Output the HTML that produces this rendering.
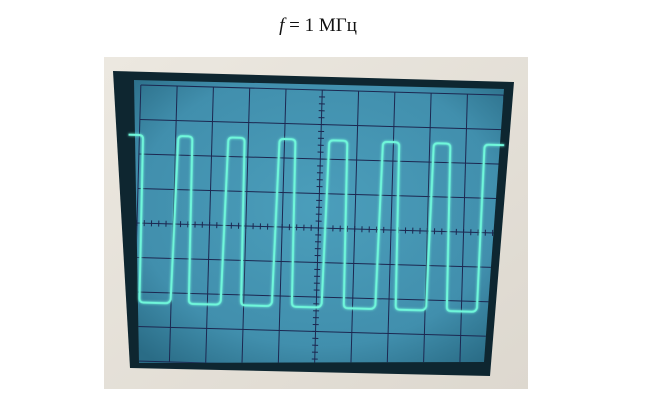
<!DOCTYPE html>
<html><head><meta charset="utf-8">
<style>
html,body{margin:0;padding:0;background:#fff;width:652px;height:401px;overflow:hidden}
#title{position:absolute;left:0;width:636px;top:15px;text-align:center;font-family:"Liberation Serif","DejaVu Serif",serif;font-size:19px;color:#111}
svg{position:absolute;left:0;top:0}
</style></head><body>
<div id="title"><i>f</i> = 1 МГц</div>
<svg width="652" height="401">
<defs>
<radialGradient id="scr" cx="0.5" cy="0.45" r="0.7">
<stop offset="0" stop-color="#4b9ebb"/><stop offset="0.7" stop-color="#418fad"/><stop offset="1" stop-color="#2a6c86"/>
</radialGradient>
<linearGradient id="bez" x1="0" y1="0" x2="1" y2="1">
<stop offset="0" stop-color="#ece8e0"/><stop offset="1" stop-color="#ddd8cf"/>
</linearGradient>
<filter id="glow"><feGaussianBlur stdDeviation="1.2" result="b"/><feMerge><feMergeNode in="b"/><feMergeNode in="SourceGraphic"/></feMerge></filter>
<clipPath id="clip"><polygon points="134,80 504,89 484,362 139,363"/></clipPath>
</defs>
<rect x="104" y="57" width="424" height="332" fill="url(#bez)"/>
<polygon points="113,71 514,82 490,376 130,368" fill="#0e2630"/>
<polygon points="134,80 504,89 484,362 139,363" fill="url(#scr)"/>
<g clip-path="url(#clip)"><g id="scope" transform="rotate(1.6 318 225)"></g></g>
<g id="tracelayer" transform="rotate(1.6 318 225)"></g>
</svg>
<script>
// waveform data: edge times in divisions (0..10) and levels in divisions from centre
const riseTimes=[0.96,2.34,3.75,5.12,6.6,8.0,9.4];
const fallTimes=[0.1,1.46,2.9,4.3,5.73,7.16,8.57];
const highLevel=2.55, lowLevel=-2.3;
const xTicks=[0,1,2,3,4,5,6,7,8,9,10];
const yTicks=[-4,-3,-2,-1,0,1,2,3,4];
const NS='http://www.w3.org/2000/svg';
const g=document.getElementById('scope');
const tl=document.getElementById('tracelayer');
const X0=137,DX=36.3,YC=228,DY=34.5;
const xs=t=>X0+t*DX, ys=v=>YC-v*DY;
function mk(tag,attrs,parent){const e=document.createElementNS(NS,tag);for(const k in attrs)e.setAttribute(k,attrs[k]);(parent||g).appendChild(e);return e;}
xTicks.forEach(t=>{const l=mk('line',{x1:xs(t),x2:xs(t),y1:ys(4),y2:ys(-4),stroke:'#1c2750','stroke-width':1});

});
yTicks.forEach(v=>{const l=mk('line',{x1:xs(0),x2:xs(10),y1:ys(v),y2:ys(v),stroke:'#1c2750','stroke-width':1});

});
for(let i=0;i<=50;i++){const t=i/5;const l=mk('line',{x1:xs(t),x2:xs(t),y1:ys(0)-3,y2:ys(0)+3,stroke:'#1c2750','stroke-width':1});

}
for(let i=0;i<=40;i++){const v=-4+i/5;const l=mk('line',{x1:xs(5)-3,x2:xs(5)+3,y1:ys(v),y2:ys(v),stroke:'#1c2750','stroke-width':1});

}
const edges=[];riseTimes.forEach(t=>edges.push([t,'r']));fallTimes.forEach(t=>edges.push([t,'f']));edges.sort((a,b)=>a[0]-b[0]);
let d='M'+xs(-0.3)+','+ys(highLevel);
const H=ys(highLevel),L=ys(lowLevel),r=4;
edges.forEach(([t,k])=>{const x=xs(t);
 if(k==='f'){d+=' L'+(x-r)+','+H+' Q'+x+','+H+' '+x+','+(H+r)+' L'+(x+1)+','+(L-r)+' Q'+(x+1)+','+L+' '+(x+1+r)+','+L;}
 else{d+=' L'+(x-r)+','+L+' Q'+x+','+L+' '+(x+1)+','+(L-r)+' L'+(x+4)+','+(H+r)+' Q'+(x+4)+','+H+' '+(x+4+r)+','+H;}
});
d+=' L'+xs(10.05)+','+H;
const p=mk('path',{d:d,fill:'none',stroke:'#6ff7da','stroke-width':2,filter:'url(#glow)'},tl);


</script>
</body></html>
